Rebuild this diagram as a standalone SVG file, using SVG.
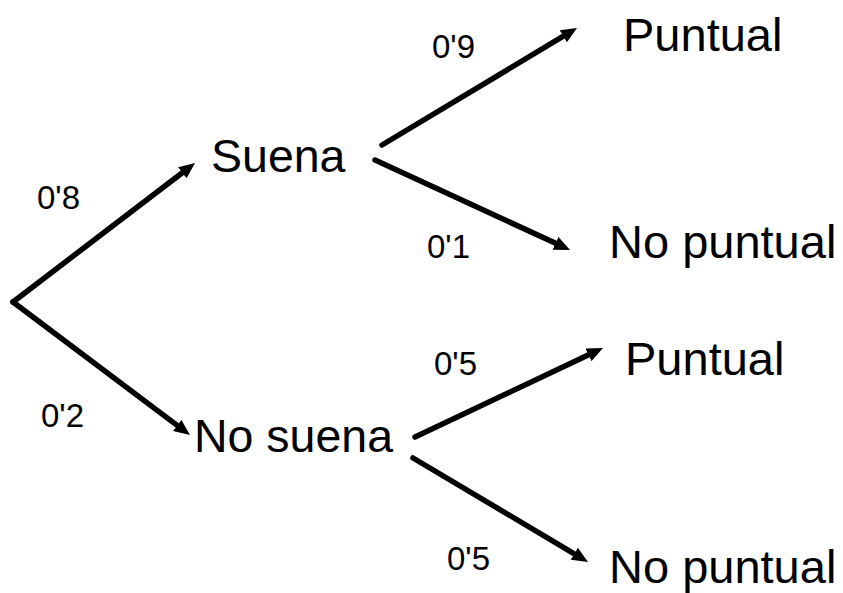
<svg xmlns="http://www.w3.org/2000/svg" width="843" height="593" viewBox="0 0 843 593">
<style>
.node{font-family:"Liberation Sans",Arial,sans-serif;font-size:46.5px;fill:#000}
.lbl{font-family:"Liberation Sans",Arial,sans-serif;font-size:33px;fill:#000}
.edge{stroke:#000;stroke-width:5.5;fill:none;stroke-linecap:round;marker-end:url(#ah)}
</style>
<defs>
<marker id="ah" markerUnits="userSpaceOnUse" viewBox="0 -7 16 14" markerWidth="16" markerHeight="14" refX="2" refY="0" orient="auto">
<path d="M0,-7 L16,0 L0,7 z" fill="#000"/>
</marker>
</defs>
<rect width="843" height="593" fill="#fff"/>
<g id="connectors">
<line class="edge" x1="13" y1="302" x2="183.9" y2="171.5"/>
<line class="edge" x1="13" y1="302" x2="178.8" y2="426.6"/>
<line class="edge" x1="382" y1="145" x2="565" y2="35.2"/>
<line class="edge" x1="375" y1="160" x2="557.3" y2="244.1"/>
<line class="edge" x1="415" y1="437" x2="590.3" y2="354"/>
<line class="edge" x1="413" y1="458" x2="576" y2="554.8"/>
<text class="lbl" x="37" y="209">0'8</text>
<text class="lbl" x="41" y="427">0'2</text>
<text class="lbl" x="432" y="58">0'9</text>
<text class="lbl" x="427" y="258">0'1</text>
<text class="lbl" x="434" y="375">0'5</text>
<text class="lbl" x="447" y="570">0'5</text>
</g>
<g id="suena"><text class="node" x="211" y="172">Suena</text></g>
<g id="no-suena"><text class="node" x="194" y="452">No suena</text></g>
<g id="puntual-1"><text class="node" x="623" y="51" style="font-size:47px">Puntual</text></g>
<g id="no-puntual-1"><text class="node" x="609" y="258" style="font-size:47px">No puntual</text></g>
<g id="puntual-2"><text class="node" x="625" y="375" style="font-size:47px">Puntual</text></g>
<g id="no-puntual-2"><text class="node" x="609" y="583" style="font-size:47px">No puntual</text></g>
</svg>
